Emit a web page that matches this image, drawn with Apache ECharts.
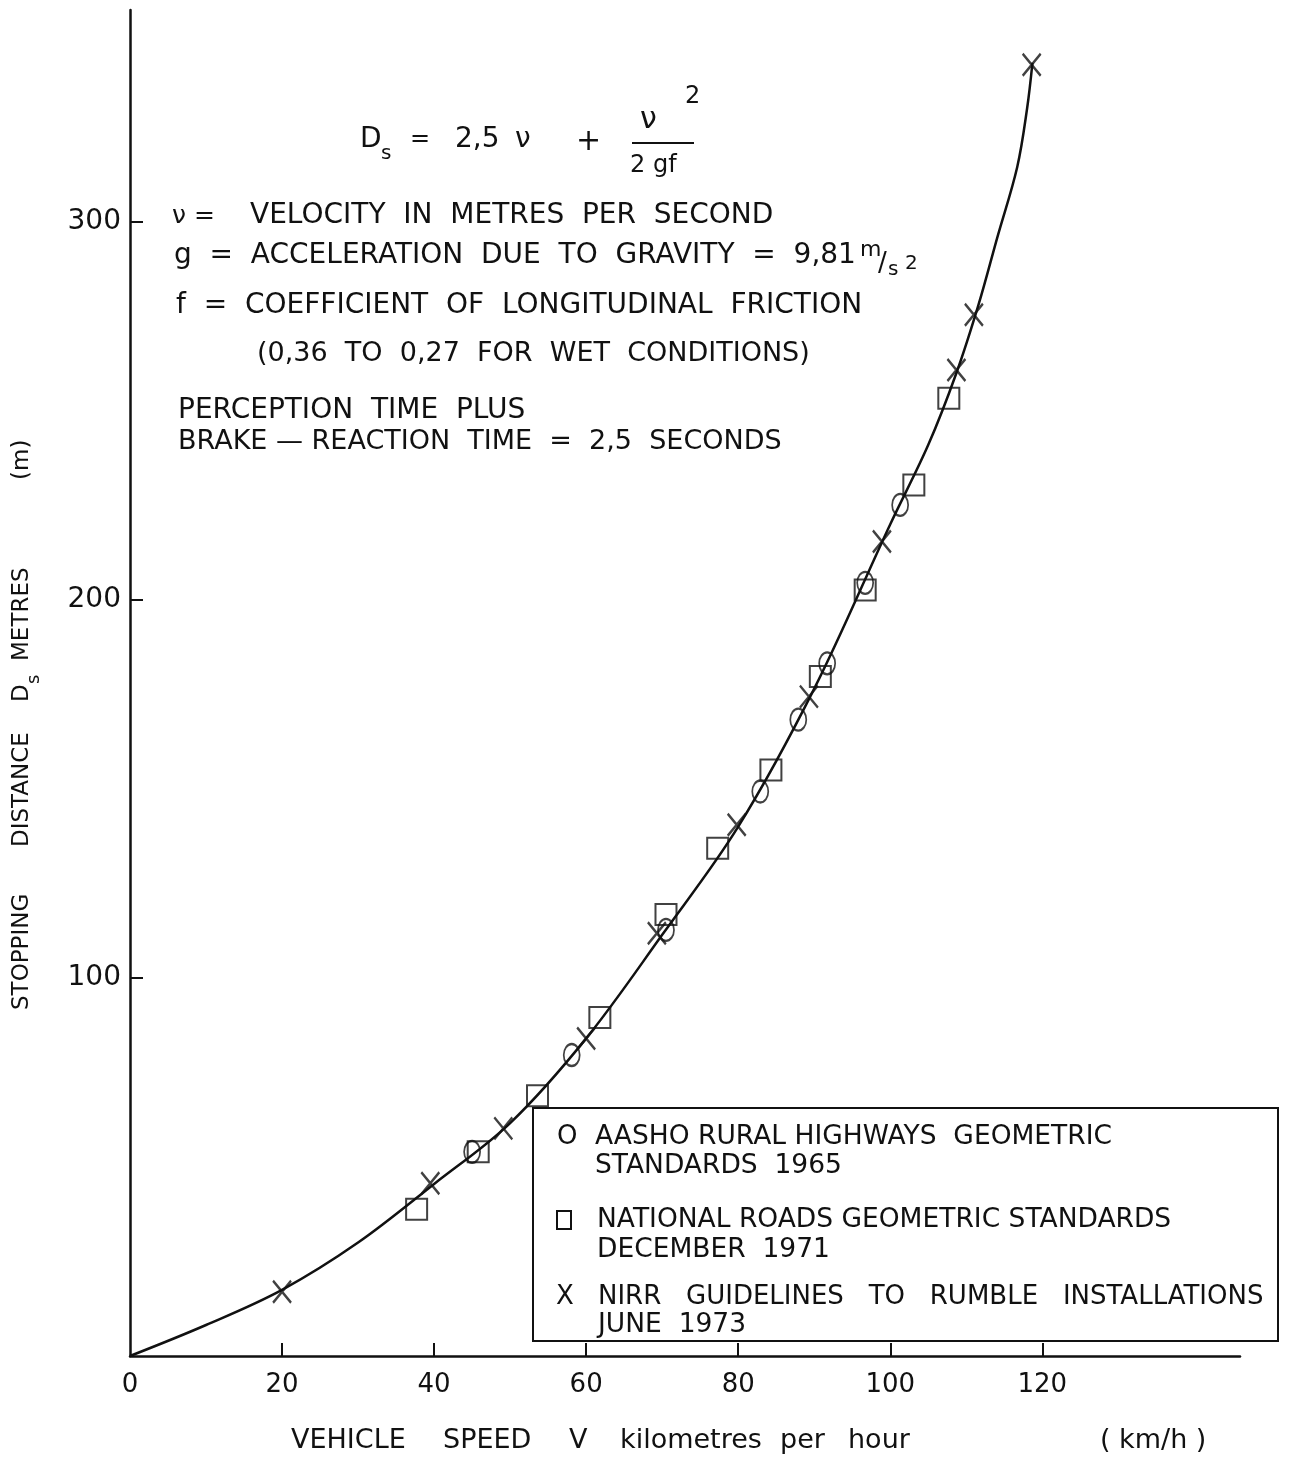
<!DOCTYPE html>
<html>
<head>
<meta charset="utf-8">
<title>Stopping distance</title>
<script src="https://cdn.jsdelivr.net/npm/echarts@6.0.0/dist/echarts.min.js"></script>
<style>
  html, body { margin: 0; padding: 0; background: #fff; }
  #main { width: 1296px; height: 1458px; }
</style>
</head>
<body>
<div id="main"></div>
<script>
// curve (km/h -> m)
var curveSpeed = [0, 10, 20, 30, 40, 50, 60, 70, 80, 90, 100, 105, 108.7, 111.6, 114.1, 116.7, 118, 118.7];
var curveDist  = [0, 8.2, 17.5, 30, 45.5, 61.6, 84, 111.4, 140, 176.5, 220, 241, 260, 278, 296, 314.5, 330, 342];

// AASHO rural highways 1965 (circles)
var aashoSpeed = [45.0, 58.1, 70.5, 82.9, 87.9, 91.7, 96.7, 101.3];
var aashoDist  = [54.0, 79.6, 112.7, 149.3, 168.3, 183.2, 204.5, 225.1];

// National roads 1971 (squares)
var natSpeed = [37.7, 45.8, 53.6, 61.8, 70.5, 77.3, 84.3, 90.8, 96.7, 103.1, 107.7];
var natDist  = [38.8, 54.0, 68.8, 89.5, 116.8, 134.3, 155.0, 179.7, 202.6, 230.4, 253.3];

// NIRR guidelines 1973 (crosses)
var nirrSpeed = [20.0, 39.5, 49.1, 60.0, 69.3, 79.8, 89.3, 98.9, 108.7, 111.0, 118.6];
var nirrDist  = [17.0, 45.7, 60.2, 84.0, 111.8, 140.5, 174.4, 215.4, 260.8, 275.4, 341.5];

var xTicks = [20, 40, 60, 80, 100, 120];
var xLabels = [0, 20, 40, 60, 80, 100, 120];
var yTicks = [100, 200, 300];

var FONT = 'DejaVu Sans';
var INK = '#111';

function pairs(xs, ys) {
  return xs.map(function (x, i) { return [x, ys[i]]; });
}

function txt(s, x, y, size, z) {
  return {
    type: 'text', x: x, y: y, z: z || 5, silent: true,
    style: { text: s, fontSize: size || 26, fontFamily: FONT, fill: INK,
             textAlign: 'left', textVerticalAlign: 'middle' }
  };
}

var crossPath = 'path://M0,0L10,12M10,0L0,12';

var myChart = echarts.init(document.getElementById('main'), null, { renderer: 'canvas' });

myChart.setOption({
  animation: false,
  backgroundColor: '#fff',
  grid: { left: 130, right: 56, top: 10, bottom: 102 },
  xAxis: {
    type: 'value', min: 0, max: 146, interval: 20,
    splitLine: { show: false },
    axisLine: { lineStyle: { color: INK, width: 2.5 } },
    axisTick: { inside: true, length: 13, lineStyle: { color: INK, width: 2 }, customValues: xTicks },
    axisLabel: { customValues: xLabels, color: INK, fontSize: 26, fontFamily: FONT, margin: 16 }
  },
  yAxis: {
    type: 'value', min: 0, max: 356, interval: 100,
    splitLine: { show: false },
    axisLine: { lineStyle: { color: INK, width: 2.5 } },
    axisTick: { inside: true, length: 13, lineStyle: { color: INK, width: 2 }, customValues: yTicks },
    axisLabel: { customValues: yTicks, color: INK, fontSize: 28, fontFamily: FONT, margin: 9 }
  },
  series: [
    {
      name: 'curve', type: 'line', data: pairs(curveSpeed, curveDist),
      showSymbol: false, smooth: 0.35,
      lineStyle: { color: INK, width: 2.5 }, z: 2
    },
    {
      name: 'AASHO RURAL HIGHWAYS GEOMETRIC STANDARDS 1965', type: 'scatter',
      data: pairs(aashoSpeed, aashoDist), symbol: 'circle', symbolSize: [16, 22],
      itemStyle: { color: 'rgba(0,0,0,0)', borderColor: INK, borderWidth: 2 }, z: 3
    },
    {
      name: 'NATIONAL ROADS GEOMETRIC STANDARDS DECEMBER 1971', type: 'scatter',
      data: pairs(natSpeed, natDist), symbol: 'rect', symbolSize: [21, 21],
      itemStyle: { color: 'rgba(0,0,0,0)', borderColor: INK, borderWidth: 2 }, z: 3
    },
    {
      name: 'NIRR GUIDELINES TO RUMBLE INSTALLATIONS JUNE 1973', type: 'scatter',
      data: pairs(nirrSpeed, nirrDist), symbol: crossPath, symbolSize: [18, 22],
      itemStyle: { color: 'rgba(0,0,0,0)', borderColor: INK, borderWidth: 2.5 }, z: 3
    }
  ],
  graphic: {
    elements: [
      // formula
      txt('D', 360, 140, 28),
      txt('s', 381, 154, 20),
      txt('=', 410, 140, 24),
      txt('2,5', 455, 140, 28),
      txt('\u03bd', 515, 140, 28),
      txt('+', 576, 142, 30),
      txt('\u03bd', 640, 120, 30),
      txt('2', 685, 97, 24),
      { type: 'line', silent: true, shape: { x1: 632, y1: 143, x2: 694, y2: 143 },
        style: { stroke: INK, lineWidth: 2 } },
      txt('2 gf', 630, 166, 24),

      // definitions
      txt('\u03bd =', 172, 216, 25),
      txt('VELOCITY  IN  METRES  PER  SECOND', 250, 216, 28),
      txt('g  =  ACCELERATION  DUE  TO  GRAVITY  =  9,81', 174, 256, 28),
      txt('m', 860, 250, 22),
      txt('/', 878, 264, 26),
      txt('s', 888, 270, 20),
      txt('2', 905, 264, 20),
      txt('f  =  COEFFICIENT  OF  LONGITUDINAL  FRICTION', 176, 306, 28),
      txt('(0,36  TO  0,27  FOR  WET  CONDITIONS)', 257, 354, 27),
      txt('PERCEPTION  TIME  PLUS', 178, 411, 28),
      txt('BRAKE \u2014 REACTION  TIME  =  2,5  SECONDS', 178, 442, 27),

      // legend box
      { type: 'rect', silent: true, z: 10,
        shape: { x: 533, y: 1108, width: 745, height: 233 },
        style: { fill: '#fff', stroke: INK, lineWidth: 2 } },
      txt('O', 557, 1137, 26, 11),
      txt('AASHO RURAL HIGHWAYS  GEOMETRIC', 595, 1137, 26.5, 11),
      txt('STANDARDS  1965', 595, 1166, 26.5, 11),
      { type: 'rect', silent: true, z: 11, shape: { x: 557, y: 1211, width: 14, height: 18 },
        style: { fill: 'none', stroke: INK, lineWidth: 2 } },
      txt('NATIONAL ROADS GEOMETRIC STANDARDS', 597, 1220, 26.5, 11),
      txt('DECEMBER  1971', 597, 1250, 26.5, 11),
      txt('X', 556, 1297, 26, 11),
      txt('NIRR   GUIDELINES   TO   RUMBLE   INSTALLATIONS', 598, 1297, 26, 11),
      txt('JUNE  1973', 598, 1325, 26.5, 11),

      // x axis name
      txt('VEHICLE', 291, 1441, 27),
      txt('SPEED', 443, 1441, 27),
      txt('V', 569, 1441, 27),
      txt('kilometres', 620, 1441, 27),
      txt('per', 780, 1441, 27),
      txt('hour', 848, 1441, 27),
      txt('( km/h )', 1100, 1441, 27),

      // y axis name (reads bottom to top)
      { type: 'group', x: 22, y: 1010, rotation: Math.PI / 2, children: [
        txt('STOPPING', 0, 0, 23),
        txt('DISTANCE', 163, 0, 23),
        txt('D', 308, 0, 23),
        txt('s', 326, 12, 18),
        txt('METRES', 349, 0, 23),
        txt('(m)', 530, 0, 23)
      ]}
    ]
  }
});
</script>
</body>
</html>
